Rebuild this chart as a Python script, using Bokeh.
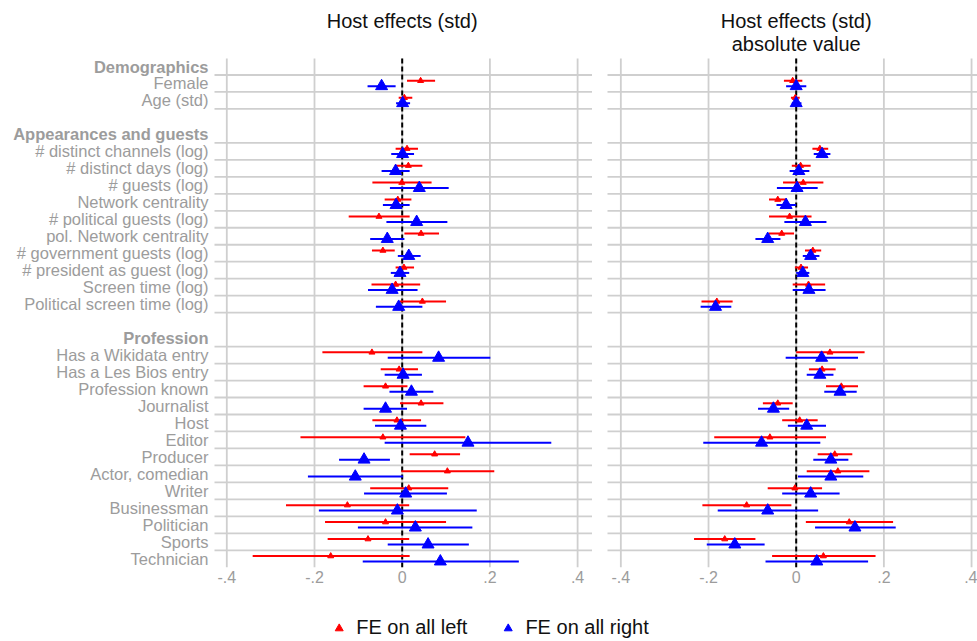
from bokeh.plotting import figure
from bokeh.models import Range1d, FixedTicker, Legend, LegendItem
from bokeh.layouts import column, row
from bokeh.embed import file_html
from bokeh.resources import INLINE
from bokeh.core.properties import value

# ---------------- data ----------------
group_names = ["Demographics", "Appearances and guests", "Profession"]
group_items = [
    ["Female", "Age (std)"],
    ["# distinct channels (log)", "# distinct days (log)", "# guests (log)",
     "Network centrality", "# political guests (log)", "pol. Network centrality",
     "# government guests (log)", "# president as guest (log)", "Screen time (log)",
     "Political screen time (log)"],
    ["Has a Wikidata entry", "Has a Les Bios entry", "Profession known", "Journalist",
     "Host", "Editor", "Producer", "Actor, comedian", "Writer", "Businessman",
     "Politician", "Sports", "Technician"],
]

# Panel 1: Host effects (std)
left_est = [0.042, 0.005, 0.011, 0.014, -0.001, -0.010, -0.053, 0.043, -0.044, 0.004, -0.015, 0.046,
            -0.069, -0.007, -0.038, 0.043, -0.012, -0.044, 0.074, 0.103, 0.015, -0.125, -0.038, -0.078, -0.163]
left_lo = [0.011, -0.008, -0.015, -0.017, -0.068, -0.040, -0.122, 0.005, -0.069, -0.015, -0.070, -0.005,
           -0.182, -0.049, -0.088, -0.005, -0.068, -0.232, 0.017, -0.002, -0.073, -0.265, -0.176, -0.170, -0.341]
left_hi = [0.075, 0.023, 0.036, 0.046, 0.067, 0.021, 0.017, 0.084, -0.017, 0.027, 0.041, 0.100,
           0.046, 0.036, 0.012, 0.094, 0.043, 0.144, 0.132, 0.210, 0.105, 0.016, 0.100, 0.016, 0.017]
right_est = [-0.047, 0.001, 0.001, -0.015, 0.039, -0.014, 0.033, -0.034, 0.015, -0.005, -0.023, -0.008,
             0.083, 0.002, 0.021, -0.038, -0.004, 0.150, -0.087, -0.107, 0.008, -0.011, 0.030, 0.059, 0.087]
right_lo = [-0.079, -0.014, -0.025, -0.047, -0.028, -0.044, -0.036, -0.073, -0.010, -0.026, -0.078, -0.060,
            -0.033, -0.040, -0.029, -0.088, -0.062, -0.040, -0.144, -0.215, -0.087, -0.190, -0.101, -0.033, -0.090]
right_hi = [-0.015, 0.018, 0.027, 0.017, 0.106, 0.017, 0.103, 0.005, 0.042, 0.016, 0.035, 0.046,
            0.201, 0.045, 0.071, 0.011, 0.055, 0.340, -0.028, 0.002, 0.102, 0.170, 0.160, 0.152, 0.266]

# Panel 2: Host effects (std), absolute value
abs_left_est = [-0.008, -0.002, 0.054, 0.010, 0.016, -0.042, -0.015, -0.033, 0.038, 0.011, 0.028, -0.181,
                0.077, 0.059, 0.103, -0.042, 0.008, -0.060, 0.088, 0.095, -0.003, -0.113, 0.121, -0.163, 0.062]
abs_left_lo = [-0.028, -0.012, 0.037, -0.010, -0.030, -0.062, -0.062, -0.062, 0.020, -0.003, -0.008, -0.216,
               0.000, 0.029, 0.068, -0.076, -0.032, -0.187, 0.049, 0.024, -0.065, -0.214, 0.022, -0.233, -0.055]
abs_left_hi = [0.014, 0.008, 0.073, 0.033, 0.062, -0.021, 0.035, -0.005, 0.057, 0.027, 0.066, -0.145,
               0.156, 0.090, 0.141, -0.008, 0.049, 0.068, 0.128, 0.167, 0.059, -0.011, 0.221, -0.093, 0.181]
abs_right_est = [0.000, 0.000, 0.059, 0.006, 0.002, -0.023, 0.021, -0.065, 0.033, 0.015, 0.029, -0.184,
                 0.058, 0.054, 0.100, -0.052, 0.024, -0.079, 0.079, 0.079, 0.033, -0.065, 0.134, -0.140, 0.047]
abs_right_lo = [-0.023, -0.010, 0.040, -0.015, -0.044, -0.045, -0.027, -0.093, 0.015, 0.000, -0.008, -0.218,
                -0.024, 0.024, 0.064, -0.087, -0.019, -0.212, 0.039, 0.004, -0.032, -0.179, 0.043, -0.204, -0.070]
abs_right_hi = [0.023, 0.012, 0.078, 0.030, 0.049, 0.000, 0.069, -0.036, 0.053, 0.030, 0.067, -0.148,
                0.141, 0.085, 0.138, -0.016, 0.068, 0.055, 0.119, 0.153, 0.099, 0.050, 0.227, -0.072, 0.164]

x_ticks = [-0.4, -0.2, 0.0, 0.2, 0.4]
x_tick_labels = ["-.4", "-.2", "0", ".2", ".4"]
series_names = ["FE on all left", "FE on all right"]
titles = [["Host effects (std)"], ["Host effects (std)", "absolute value"]]

# ---------------- row structure ----------------
header_rows, header_labels, item_rows, item_labels, blank_rows = [], [], [], [], []
r = 0
for gi, (g, items) in enumerate(zip(group_names, group_items)):
    header_rows.append(r); header_labels.append(g); r += 1
    for it in items:
        item_rows.append(r); item_labels.append(it); r += 1
    if gi < len(group_names) - 1:
        blank_rows.append(r); r += 1
n_rows = r
grid_rows = [k + 0.5 for k in range(n_rows - 1) if k not in blank_rows]

FONT = "Liberation Sans"
GRAY_TXT = "#9c9c9c"
GRID = "#cfcfcf"
RED = "#ff0000"
BLUE = "#0000ff"

# pixel geometry helpers (page px -> data)
Y0, DY = 66.0, 16.975            # row 0 centre and row pitch (px)
def row_of(py):
    return (py - Y0) / DY

FRAME_TOP, FRAME_BOT = 0, 567
y_range_vals = (row_of(FRAME_BOT), row_of(FRAME_TOP))

def make_panel(left_px, right_px, zero_px, scale, grid_start_px, with_labels, title_lines,
               red_e, red_l, red_h, blue_e, blue_l, blue_h):
    xs = lambda px: (px - zero_px) / scale
    p = figure(frame_width=right_px - left_px, frame_height=FRAME_BOT - FRAME_TOP,
               x_range=Range1d(xs(left_px), xs(right_px)),
               y_range=Range1d(*y_range_vals),
               output_backend="svg", toolbar_location=None,
               y_axis_location=None, min_border=0, min_border_bottom=0,
               outline_line_color=None, background_fill_color="white", border_fill_color="white")
    p.grid.visible = False
    ax = p.xaxis[0]
    ax.ticker = FixedTicker(ticks=x_ticks)
    ax.major_label_overrides = {t: l for t, l in zip(x_ticks, x_tick_labels)}
    ax.axis_line_color = None
    ax.major_tick_line_color = None
    ax.minor_tick_line_color = None
    ax.major_tick_out = 0
    ax.major_label_standoff = 3
    ax.major_label_text_font = FONT
    ax.major_label_text_font_size = "16px"
    ax.major_label_text_color = GRAY_TXT

    gx0 = xs(grid_start_px)
    gx1 = xs(right_px)
    top_grid = row_of(58)
    bot_grid = row_of(FRAME_BOT)
    p.segment(x0=[gx0] * len(grid_rows), x1=[gx1] * len(grid_rows), y0=grid_rows, y1=grid_rows,
              line_color=GRID, line_width=1.8)
    p.segment(x0=x_ticks, x1=x_ticks, y0=[top_grid] * len(x_ticks), y1=[bot_grid] * len(x_ticks),
              line_color=GRID, line_width=1.8)
    p.segment(x0=[0], x1=[0], y0=[top_grid], y1=[bot_grid], line_color="black",
              line_width=2, line_dash="5 3")

    y_red = [v - 0.16 for v in item_rows]
    y_blue = [v + 0.16 for v in item_rows]
    p.segment(x0=red_l, x1=red_h, y0=y_red, y1=y_red, line_color=RED, line_width=2)
    p.scatter(x=red_e, y=y_red, marker="triangle", size=6, fill_color=RED, line_color=RED)
    p.segment(x0=blue_l, x1=blue_h, y0=y_blue, y1=y_blue, line_color=BLUE, line_width=2)
    p.scatter(x=blue_e, y=y_blue, marker="triangle", size=12, fill_color=BLUE, line_color=BLUE)

    if with_labels:
        lx = xs(208)
        p.text(x=[lx] * len(item_rows), y=item_rows, text=item_labels, text_align="right",
               text_baseline="middle", text_font=value(FONT), text_font_size="16.5px",
               text_color=GRAY_TXT)
        p.text(x=[lx] * len(header_rows), y=header_rows, text=header_labels, text_align="right",
               text_baseline="middle", text_font=value(FONT), text_font_size="16.5px",
               text_font_style="bold", text_color=GRAY_TXT)
    title_y = [row_of(20), row_of(43)][:len(title_lines)]
    p.text(x=[0] * len(title_lines), y=title_y, text=title_lines, text_align="center",
           text_baseline="middle", text_font=value(FONT), text_font_size="20px",
           text_color="#111111")
    return p

p1 = make_panel(0, 592, 401.7, 438.5, 214, True, titles[0],
                left_est, left_lo, left_hi, right_est, right_lo, right_hi)
p2 = make_panel(592, 977, 795.7, 438.4, 607, False, titles[1],
                abs_left_est, abs_left_lo, abs_left_hi, abs_right_est, abs_right_lo, abs_right_hi)

lg = figure(width=977, height=54, x_range=Range1d(0, 1), y_range=Range1d(0, 1),
            output_backend="svg", toolbar_location=None, x_axis_location=None,
            y_axis_location=None, min_border=0, outline_line_color=None)
lg.grid.visible = False
# off-screen dummy points, only used for the legend keys
r1 = lg.scatter(x=[5], y=[5], marker="triangle", size=6, fill_color=RED, line_color=RED)
r2 = lg.scatter(x=[5], y=[5], marker="triangle", size=12, fill_color=BLUE, line_color=BLUE)
legend = Legend(items=[LegendItem(label=series_names[0], renderers=[r1]),
                       LegendItem(label=series_names[1], renderers=[r2])],
                orientation="horizontal", location="bottom_center",
                label_text_font=FONT, label_text_font_size="20px", label_text_color="#111111",
                border_line_color=None, background_fill_alpha=0, spacing=30,
                padding=0, margin=0, glyph_width=20, label_standoff=8)
lg.add_layout(legend, "center")

layout = column(row(p1, p2), lg)
open("out.html", "w").write(file_html(layout, INLINE))
